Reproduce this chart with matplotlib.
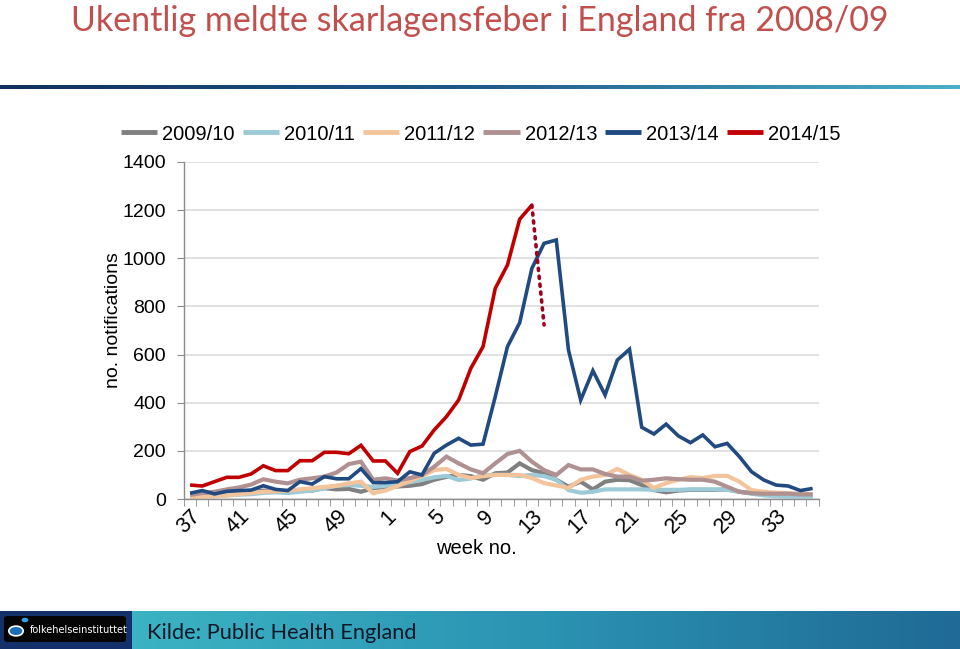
import matplotlib
matplotlib.use('Agg')
import matplotlib.pyplot as plt
import numpy as np
from matplotlib.colors import LinearSegmentedColormap
from matplotlib.patches import Rectangle, Circle, FancyBboxPatch

# week numbers, season running from week 37 to week 36
weeks = list(range(37, 53)) + list(range(1, 37))
seasons = ['2009/10', '2010/11', '2011/12', '2012/13', '2013/14', '2014/15']

s0910 = [10, 15, 18, 22, 25, 28, 35, 30, 28, 38, 35, 45, 40, 42, 30, 45, 50, 52,
         55, 62, 80, 92, 100, 95, 80, 107, 110, 148, 120, 107, 80, 51, 72, 40, 72,
         80, 78, 58, 37, 28, 35, 38, 38, 38, 40, 30, 25, 20, 18, 16, 15, 15]
s1011 = [8, 10, 12, 15, 18, 20, 25, 28, 25, 30, 35, 45, 55, 58, 55, 50, 55, 60,
         70, 80, 90, 96, 79, 85, 100, 100, 100, 95, 100, 95, 80, 37, 26, 30, 40,
         40, 40, 40, 38, 38, 38, 40, 40, 40, 38, 30, 22, 15, 12, 10, 10, 10]
s1112 = [5, 8, 12, 15, 20, 25, 30, 32, 35, 40, 45, 50, 55, 65, 72, 24, 35, 54,
         75, 95, 120, 125, 100, 87, 95, 100, 100, 100, 87, 66, 56, 46, 80, 93, 100,
         125, 100, 80, 46, 66, 80, 91, 87, 96, 96, 72, 37, 30, 26, 24, 22, 20]
s1213 = [17, 25, 30, 40, 48, 60, 82, 72, 65, 80, 86, 93, 110, 145, 155, 80, 86, 77,
         87, 100, 134, 176, 148, 123, 107, 148, 187, 200, 155, 120, 100, 141, 123, 123, 104,
         93, 93, 76, 80, 86, 82, 80, 80, 72, 51, 30, 24, 22, 22, 22, 19, 19]
s1314 = [24, 35, 21, 32, 35, 37, 55, 40, 35, 72, 62, 93, 84, 84, 126, 68, 68, 72,
         113, 100, 190, 224, 252, 224, 228, 425, 633, 732, 958, 1062, 1076, 619, 411, 533, 432,
         577, 622, 298, 270, 311, 262, 234, 266, 217, 231, 176, 113, 79, 58, 54, 35, 44]
s1415 = [58, 54, 72, 90, 90, 104, 138, 118, 118, 159, 159, 194, 194, 188, 223, 158, 158, 107,
         197, 220, 287, 342, 411, 543, 633, 875, 972, 1162, 1221] + [None] * 23
# projected drop for 2014/15 (weeks 13-14)
proj_idx = [28, 29]
proj_vals = [1221, 723]

colors = ['#808080', '#9ccad6', '#f3c49c', '#b09191', '#204a80', '#c00000']
widths = [3.0, 3.0, 3.0, 3.0, 2.6, 2.6]

fig = plt.figure(figsize=(9.6, 6.49), dpi=100)
W, H = 960, 649

def fx(px):
    return px / W

def fy(py):
    return 1 - py / H

# slide title
title = fig.text(0.5, fy(31), 'Ukentlig meldte skarlagensfeber i England fra 2008/09',
                 ha='center', va='baseline', color='#c0504d', family='Lato', fontsize=26)

# gradient rule under the title
rule_ax = fig.add_axes([0, fy(89), 1, 4 / H])
rule_ax.axis('off')
grad = np.linspace(0, 1, 256).reshape(1, -1)
rule_cmap = LinearSegmentedColormap.from_list('rule', ['#10305e', '#1f5a8a', '#4bb0c8'])
rule_ax.imshow(grad, aspect='auto', cmap=rule_cmap, extent=[0, 1, 0, 1])
rule_ax.set_xlim(0, 1)
rule_ax.set_ylim(0, 1)

# chart
ax = fig.add_axes([fx(184), fy(499), fx(818.7) - fx(184), fy(162) - fy(499)])
x = np.arange(len(weeks))
series = [s0910, s1011, s1112, s1213, s1314, s1415]
handles = []
for name, vals, c, lw in zip(seasons, series, colors, widths):
    h, = ax.plot(x, np.array(vals, dtype=float), color=c, lw=lw, label=name,
                 solid_joinstyle='miter', solid_capstyle='butt')
    handles.append(h)
ax.plot(proj_idx, proj_vals, color='#a00020', lw=2.6, linestyle=(0, (0.6, 1.6)),
        dash_capstyle='round')

ax.set_xlim(-0.5, len(weeks) - 0.5)
ax.set_ylim(0, 1400)
ax.set_yticks(np.arange(0, 1401, 200))
ax.grid(axis='y', color='#d9d9d9', lw=1.1)
ax.set_axisbelow(True)
for s in ['top', 'right']:
    ax.spines[s].set_visible(False)
for s in ['left', 'bottom']:
    ax.spines[s].set_color('#8c8c8c')
    ax.spines[s].set_linewidth(1.0)

lab_pos = x[::4]
ax.set_xticks(lab_pos)
ax.set_xticklabels([str(weeks[i]) for i in lab_pos], rotation=45, ha='right',
                   rotation_mode='anchor', family='Liberation Sans', fontsize=15.5)
ax.set_xticks(np.arange(-0.5, len(weeks)), minor=True)
ax.tick_params(axis='x', which='major', length=0, pad=5)
ax.tick_params(axis='x', which='minor', length=5, color='#8c8c8c', direction='out')
ax.tick_params(axis='y', length=5, color='#8c8c8c', pad=8)
for t in ax.get_yticklabels():
    t.set_family('Liberation Sans')
    t.set_fontsize(14)

fig.text(fx(476), fy(548), 'week no.', ha='center', va='center',
         family='Liberation Sans', fontsize=14.5)
fig.text(fx(114), fy(320), 'no. notifications', ha='center', va='center', rotation=90,
         family='Liberation Sans', fontsize=14)

fig.legend(handles, seasons, loc='center', bbox_to_anchor=(fx(481), fy(134)), ncol=6,
           frameon=False, prop={'family': 'Liberation Sans', 'size': 14.5},
           handlelength=1.8, handletextpad=0.25, columnspacing=0.4, borderaxespad=0)
for h in fig.legends[0].legend_handles:
    h.set_linewidth(3.5)

# footer band
foot_ax = fig.add_axes([fx(132), 0, 1 - fx(132), 38 / H])
foot_ax.axis('off')
foot_cmap = LinearSegmentedColormap.from_list('foot', ['#3bb3c3', '#2b93b3', '#1f6a96'])
foot_ax.imshow(grad, aspect='auto', cmap=foot_cmap, extent=[0, 1, 0, 1])
foot_ax.set_xlim(0, 1)
foot_ax.set_ylim(0, 1)
fig.patches.append(Rectangle((0, 0), fx(132), 38 / H, transform=fig.transFigure,
                             facecolor='#13306a', edgecolor='none'))
fig.patches.append(FancyBboxPatch((fx(4), fy(642)), fx(122), 26 / H,
                                  boxstyle='round,pad=0,rounding_size=0.004',
                                  transform=fig.transFigure, facecolor='#050505',
                                  edgecolor='none'))
fig.patches.append(Circle((fx(16), fy(631)), 0.0075, transform=fig.transFigure,
                          facecolor='#1a6fb8', edgecolor='white', lw=1.2))
fig.patches.append(Circle((fx(25), fy(620)), 0.0035, transform=fig.transFigure,
                          facecolor='#3aa0e0', edgecolor='none'))
fig.text(fx(30), fy(630), 'folkehelseinstituttet', ha='left', va='center', color='white',
         family='DejaVu Sans', fontsize=7)
kilde = fig.text(fx(147), fy(639), 'Kilde: Public Health England', ha='left',
                 va='baseline', color='#101828', family='Lato', fontsize=15)

# fit slide texts to their widths in the reference
fig.canvas.draw()
r = fig.canvas.get_renderer()
for t, target in [(title, 816), (kilde, 270)]:
    w = t.get_window_extent(r).width
    t.set_fontsize(t.get_fontsize() * target / w)

fig.savefig('out.png', dpi=100)
